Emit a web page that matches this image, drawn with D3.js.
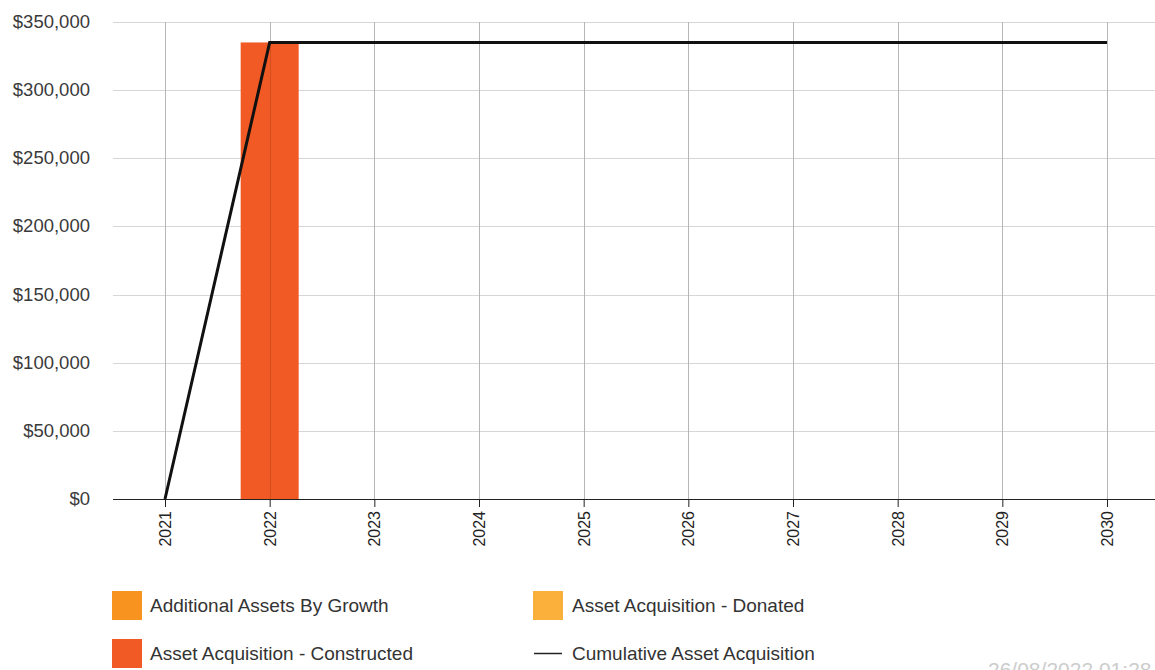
<!DOCTYPE html>
<html>
<head>
<meta charset="utf-8">
<script src="https://cdnjs.cloudflare.com/ajax/libs/d3/7.8.5/d3.min.js"></script>
<style>
  html, body { margin: 0; padding: 0; background: #fff; overflow: hidden; }
  text { font-family: "Liberation Sans", Arial, sans-serif; }
</style>
</head>
<body>
<div id="vis"></div>
<script>
// chart values
var years = [2021, 2022, 2023, 2024, 2025, 2026, 2027, 2028, 2029, 2030];
var growth = [0, 0, 0, 0, 0, 0, 0, 0, 0, 0];
var donated = [0, 0, 0, 0, 0, 0, 0, 0, 0, 0];
var constructed = [0, 335000, 0, 0, 0, 0, 0, 0, 0, 0];
var cumulative = [0, 335000, 335000, 335000, 335000, 335000, 335000, 335000, 335000, 335000];
var yTicks = [0, 50000, 100000, 150000, 200000, 250000, 300000, 350000];
var seriesNames = ["Additional Assets By Growth", "Asset Acquisition - Donated",
                   "Asset Acquisition - Constructed", "Cumulative Asset Acquisition"];
var seriesColors = ["#f7931e", "#fbb03b", "#f15a24", "#111111"];
var stamp = "26/08/2022 01:28";

function drawChart(){
  var W = 1155, H = 670;
  var svg = d3.select("#vis").append("svg")
      .attr("width", W).attr("height", H);

  var plotLeft = 113, plotTop = 22, plotBottom = 499;
  var step = (1107 - 165) / 9;

  var xScale = d3.scaleLinear()
      .domain([2020.5, 2030.5])
      .range([165 - step / 2, 1107 + step / 2]);
  var yScale = d3.scaleLinear()
      .domain([0, 350000])
      .range([plotBottom, plotTop]);

  // gridlines
  svg.append("g").selectAll("line")
    .data(yTicks).enter().append("line")
      .attr("x1", plotLeft).attr("x2", W)
      .attr("y1", d => Math.round(yScale(d)) + 0.5).attr("y2", d => Math.round(yScale(d)) + 0.5)
      .attr("stroke", "#d6d6d6").attr("stroke-width", 1);
  svg.append("g").selectAll("line")
    .data(years).enter().append("line")
      .attr("x1", d => Math.round(xScale(d)) + 0.5).attr("x2", d => Math.round(xScale(d)) + 0.5)
      .attr("y1", plotTop).attr("y2", plotBottom)
      .attr("stroke", "#d0d0d0").attr("stroke-width", 1);

  // y labels
  svg.append("g").selectAll("text")
    .data(yTicks).enter().append("text")
      .attr("x", 90)
      .attr("y", d => yScale(d) + 6)
      .attr("text-anchor", "end")
      .attr("font-size", 18.5)
      .attr("fill", "#3a3a3a")
      .text(d => "$" + d3.format(",")(d));

  // stacked bars
  var barW = 58;
  years.forEach(function(yr, i){
    var parts = [[growth[i], seriesColors[0]], [donated[i], seriesColors[1]], [constructed[i], seriesColors[2]]];
    var base = 0;
    parts.forEach(function(p){
      if (p[0] > 0) {
        svg.append("rect")
          .attr("x", xScale(yr) - barW / 2)
          .attr("y", yScale(base + p[0]))
          .attr("width", barW)
          .attr("height", yScale(base) - yScale(base + p[0]))
          .attr("fill", p[1]);
      }
      base += p[0];
    });
  });

  // faint grid over the bars
  svg.append("g").selectAll("line")
    .data(years).enter().append("line")
      .attr("x1", d => Math.round(xScale(d)) + 0.5).attr("x2", d => Math.round(xScale(d)) + 0.5)
      .attr("y1", plotTop).attr("y2", plotBottom)
      .attr("stroke", "rgba(0,0,0,0.12)").attr("stroke-width", 1);

  // x axis
  var xAxis = d3.axisBottom(xScale).tickValues(years).tickSize(8).tickFormat(d3.format("d"));
  var gx = svg.append("g")
      .attr("transform", "translate(0," + plotBottom + ")")
      .call(xAxis);
  gx.select(".domain").attr("d", "M" + plotLeft + ",0.5H" + W).attr("stroke", "#222");
  gx.selectAll(".tick line").attr("stroke", "#222");
  gx.selectAll(".tick text")
      .attr("font-family", "Liberation Sans, Arial, sans-serif")
      .attr("font-size", 16)
      .attr("fill", "#222")
      .attr("transform", "rotate(-90)")
      .attr("text-anchor", "end")
      .attr("x", -12)
      .attr("y", 0)
      .attr("dy", "0.35em");

  // cumulative line
  var line = d3.line()
      .x((d, i) => xScale(years[i]))
      .y(d => yScale(d));
  svg.append("path")
      .datum(cumulative)
      .attr("d", line)
      .attr("fill", "none")
      .attr("stroke", seriesColors[3])
      .attr("stroke-width", 3);

  // legend: two columns
  var legendPos = [[112, 591], [533, 591], [112, 639], [534, 639]];
  var textX = [150, 572, 150, 572];
  seriesNames.forEach(function(name, k){
    var p = legendPos[k];
    if (k < 3) {
      svg.append("rect")
        .attr("x", p[0]).attr("y", p[1])
        .attr("width", 30).attr("height", 29)
        .attr("fill", seriesColors[k]);
    } else {
      svg.append("line")
        .attr("x1", p[0]).attr("x2", p[0] + 28)
        .attr("y1", p[1] + 14.5).attr("y2", p[1] + 14.5)
        .attr("stroke", "#222").attr("stroke-width", 1.5);
    }
    svg.append("text")
      .attr("x", textX[k])
      .attr("y", p[1] + 21)
      .attr("font-size", 19)
      .attr("fill", "#333")
      .text(name);
  });

  // timestamp (cut off at the bottom edge, as in the source)
  svg.append("text")
    .attr("x", 988).attr("y", 677)
    .attr("font-size", 21)
    .attr("fill", "#cccccc")
    .text(stamp);
}

drawChart();
</script>
</body>
</html>
